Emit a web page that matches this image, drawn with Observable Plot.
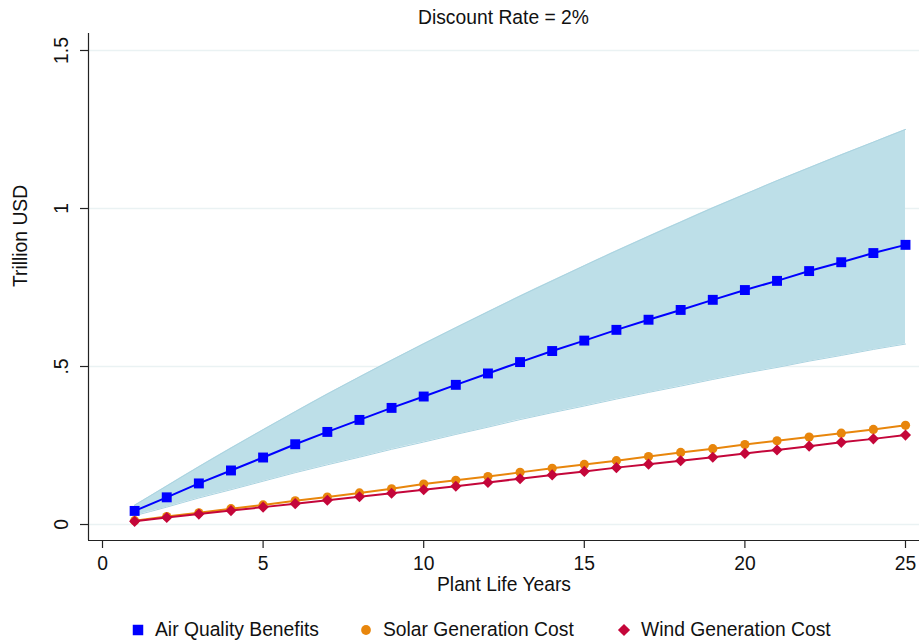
<!DOCTYPE html>
<html>
<head>
<meta charset="utf-8">
<script src="https://cdn.jsdelivr.net/npm/d3@7"></script>
<script src="https://cdn.jsdelivr.net/npm/@observablehq/plot@0.6"></script>
<style>
  html, body { margin: 0; padding: 0; background: #ffffff; }
  body { font-family: "Liberation Sans", Arial, Helvetica, sans-serif; }
  #wrap { position: relative; width: 919px; height: 642px; overflow: hidden; background: #fff; }
  #title { position: absolute; left: 88px; width: 831px; top: 8px; line-height: 20px; font-size: 19.3px; text-align: center; color: #111; }
  #chart { position: absolute; left: 0; top: 33px; }
  .leg { position: absolute; top: 620px; height: 20px; line-height: 20px; font-size: 19.3px; color: #111; white-space: nowrap; }
  .leg svg { position: absolute; left: 0; top: 0; }
  .leg span { position: absolute; top: 0; }
</style>
</head>
<body>
<div id="wrap">
  <div id="title">Discount Rate = 2%</div>
  <div id="chart"></div>
  <div id="legend"></div>
</div>
<script>
const titleText = "Discount Rate = 2%";
const xLabel = "Plant Life Years";
const yLabel = "Trillion USD";

const years = [1,2,3,4,5,6,7,8,9,10,11,12,13,14,15,16,17,18,19,20,21,22,23,24,25];
const airQualityBenefits = [0.043,0.086,0.130,0.171,0.212,0.254,0.293,0.331,0.369,0.405,0.442,0.478,0.514,0.549,0.582,0.616,0.648,0.679,0.711,0.742,0.771,0.802,0.830,0.859,0.885];
const benefitsLower = [0.028,0.055,0.084,0.110,0.137,0.164,0.189,0.213,0.238,0.261,0.285,0.308,0.332,0.354,0.375,0.397,0.418,0.438,0.459,0.479,0.497,0.517,0.535,0.554,0.571];
const benefitsUpper = [0.061,0.122,0.183,0.242,0.300,0.357,0.413,0.467,0.520,0.572,0.623,0.673,0.723,0.771,0.819,0.866,0.912,0.957,1.002,1.045,1.088,1.129,1.170,1.210,1.250];
const solarGenerationCost = [0.012,0.025,0.037,0.050,0.062,0.075,0.087,0.100,0.113,0.128,0.140,0.152,0.165,0.178,0.190,0.202,0.215,0.228,0.240,0.253,0.265,0.277,0.289,0.301,0.314];
const windGenerationCost = [0.010,0.022,0.033,0.044,0.055,0.066,0.077,0.088,0.099,0.110,0.121,0.133,0.145,0.157,0.168,0.180,0.191,0.202,0.213,0.225,0.236,0.248,0.260,0.271,0.283];

const seriesNames = ["Air Quality Benefits", "Solar Generation Cost", "Wind Generation Cost"];
const seriesColors = ["#0000ff", "#e8860c", "#c4063a"];
const bandColor = "#bddfe8";

const xTickValues = [0, 5, 10, 15, 20, 25];
const yTickValues = [0, 0.5, 1, 1.5];
const yTickLabels = ["0", ".5", "1", "1.5"];

const rows = years.map((yr, i) => ({
  year: yr,
  benefit: airQualityBenefits[i],
  low: benefitsLower[i],
  high: benefitsUpper[i],
  solar: solarGenerationCost[i],
  wind: windGenerationCost[i]
}));
const yTicks = yTickValues.map((v, i) => ({v, label: yTickLabels[i]}));

const xDomain = [-0.436, 25.436];
const yDomain = [-0.0506, 1.5538];
const FONT = "'Liberation Sans', Arial, Helvetica, sans-serif";

const chart = Plot.plot({
  width: 919,
  height: 570,
  marginLeft: 88,
  marginRight: 0,
  marginTop: 0,
  marginBottom: 63,
  style: {fontFamily: FONT, fontSize: "19.3px", background: "white", color: "#111", overflow: "visible"},
  x: {domain: xDomain},
  y: {domain: yDomain},
  marks: [
    Plot.ruleY(yTickValues, {stroke: "#eaf2f3", strokeWidth: 1.6}),
    Plot.areaY(rows, {x: "year", y1: "low", y2: "high", fill: bandColor, curve: "monotone-x"}),
    Plot.line(rows, {x: "year", y: "high", stroke: "#aad3e0", strokeWidth: 1, curve: "monotone-x"}),
    Plot.line(rows, {x: "year", y: "low", stroke: "#aad3e0", strokeWidth: 1, curve: "monotone-x"}),
    Plot.line(rows, {x: "year", y: "benefit", stroke: seriesColors[0], strokeWidth: 2}),
    Plot.dot(rows, {x: "year", y: "benefit", symbol: "square", r: 5.6, fill: seriesColors[0], stroke: "none"}),
    Plot.line(rows, {x: "year", y: "solar", stroke: seriesColors[1], strokeWidth: 2}),
    Plot.dot(rows, {x: "year", y: "solar", symbol: "circle", r: 4.6, fill: seriesColors[1], stroke: "none"}),
    Plot.line(rows, {x: "year", y: "wind", stroke: seriesColors[2], strokeWidth: 2}),
    Plot.dot(rows, {x: "year", y: "wind", symbol: "diamond2", r: 5, fill: seriesColors[2], stroke: "none"}),
    Plot.ruleX([xDomain[0]], {stroke: "#222", strokeWidth: 1.2}),
    Plot.ruleY([yDomain[0]], {stroke: "#222", strokeWidth: 1.2}),
    Plot.axisX({ticks: xTickValues, tickSize: 8, tickPadding: 8, fontSize: 19.3, label: null, stroke: "#222", strokeWidth: 1.2}),
    Plot.axisY({ticks: yTickValues, tickSize: 8, tickFormat: () => "", label: null, stroke: "#222", strokeWidth: 1.2}),
    Plot.text(yTicks, {x: () => xDomain[0], y: "v", text: "label", rotate: -90, dx: -27, fontSize: 19.3, textAnchor: "middle", lineAnchor: "middle", fill: "#111"}),
    Plot.text([xLabel], {frameAnchor: "bottom", dy: 44, fontSize: 19.3, lineAnchor: "middle", fill: "#111"}),
    Plot.text([yLabel], {frameAnchor: "left", dx: -68, rotate: -90, fontSize: 19.3, lineAnchor: "middle", fill: "#111"})
  ]
});
document.getElementById("chart").appendChild(chart);

// Legend
const legend = document.getElementById("legend");
const legendSymbols = ["square", "circle", "diamond2"];
const legendLeft = [131, 359, 617];
seriesNames.forEach((name, i) => {
  const item = document.createElement("div");
  item.className = "leg";
  item.style.left = legendLeft[i] + "px";
  const sym = d3.symbol(
    {square: d3.symbolSquare, circle: d3.symbolCircle, diamond2: d3.symbolDiamond2}[legendSymbols[i]],
    legendSymbols[i] === "square" ? 110 : legendSymbols[i] === "circle" ? 75 : 95
  )();
  item.innerHTML = `<svg width="14" height="20"><path d="${sym}" transform="translate(7,10)" fill="${seriesColors[i]}"></path></svg><span style="left:24px">${name}</span>`;
  legend.appendChild(item);
});
</script>
</body>
</html>
